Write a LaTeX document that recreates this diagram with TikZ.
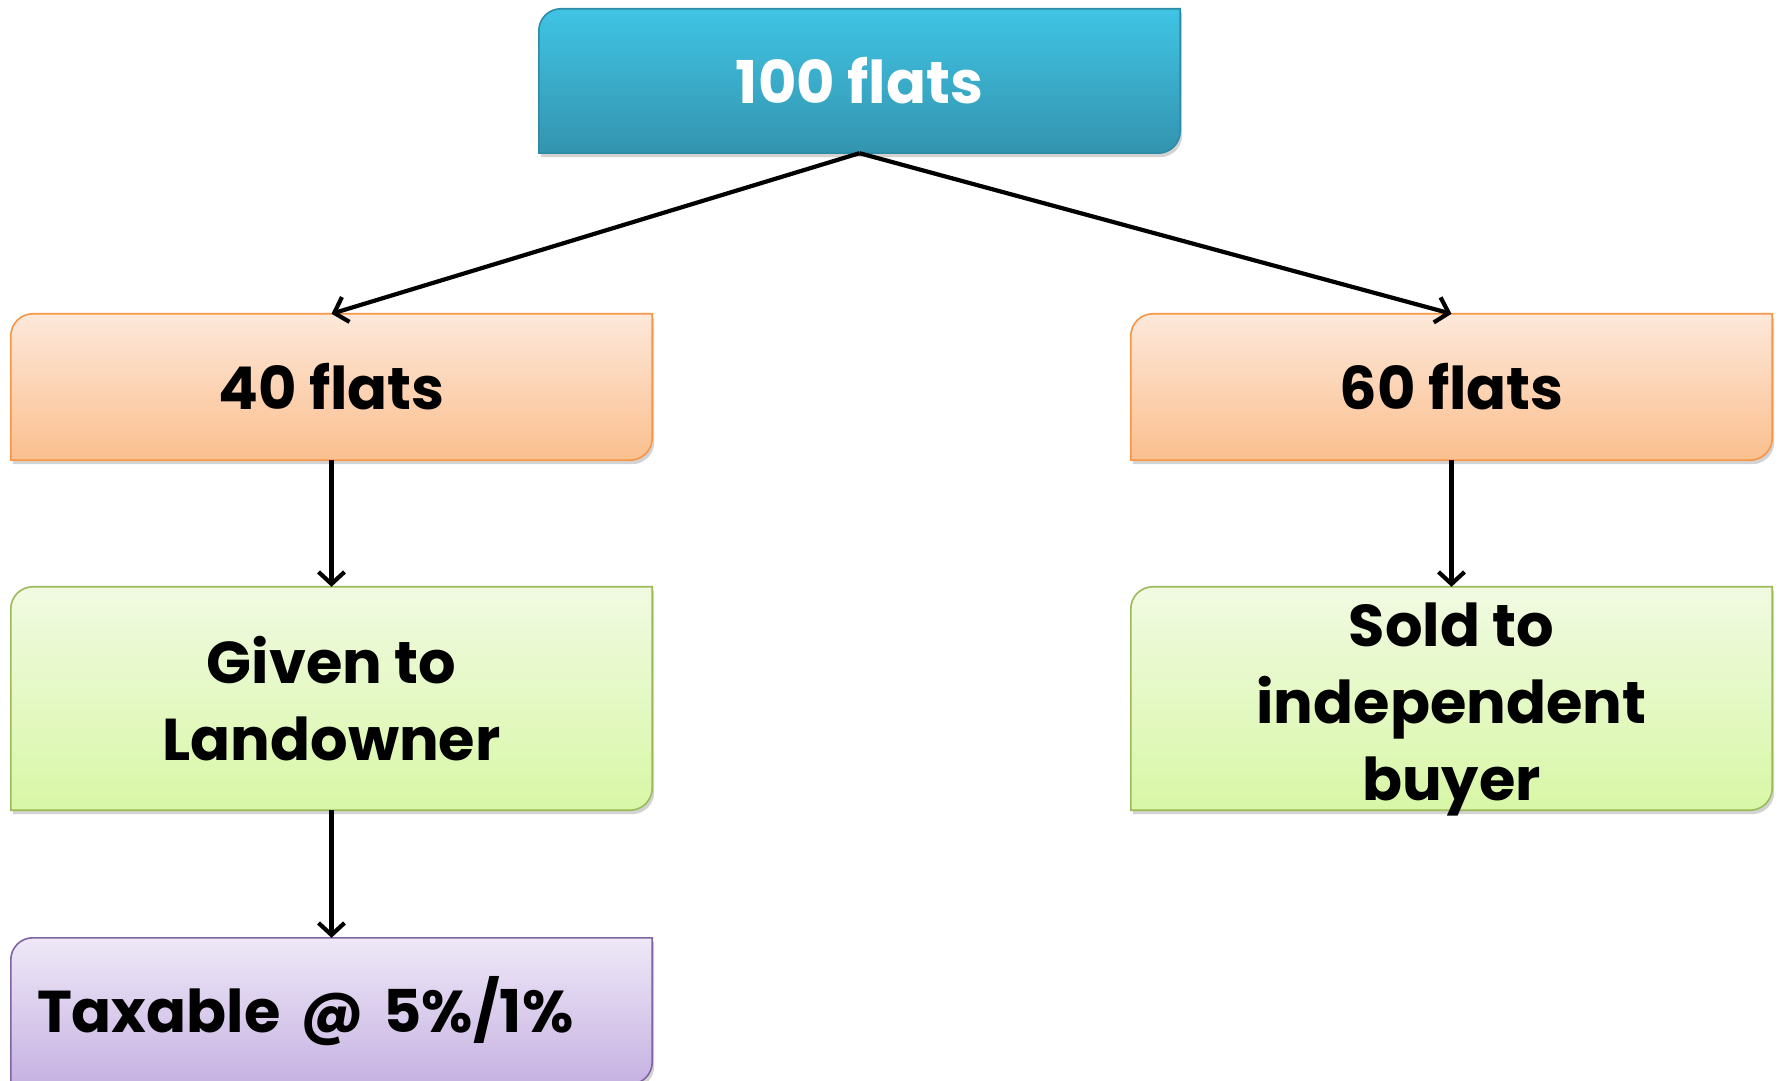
\documentclass[tikz,border=0pt]{standalone}
\usepackage{fontspec}
\setmainfont{Poppins}[BoldFont={* Bold}]
\usetikzlibrary{arrows.meta,shadows,calc}

\definecolor{blueTop}{HTML}{40C4E4}
\definecolor{blueBot}{HTML}{3394AF}
\definecolor{blueLine}{HTML}{2E8BA6}
\definecolor{orangeTop}{HTML}{FDE8DA}
\definecolor{orangeBot}{HTML}{FBBF8E}
\definecolor{orangeLine}{HTML}{F79646}
\definecolor{greenTop}{HTML}{F1FAE2}
\definecolor{greenBot}{HTML}{D8F7A6}
\definecolor{greenLine}{HTML}{9BBB59}
\definecolor{purpleTop}{HTML}{EEE8F7}
\definecolor{purpleBot}{HTML}{C6B2E2}
\definecolor{purpleLine}{HTML}{8064A2}

% draws a box with rounded top-left and bottom-right corners around a node
\newcommand\flowshape[4]{%
  \path[top color=#2, bottom color=#3, draw=#4, line width=1.6pt,
        drop shadow={shadow xshift=2pt, shadow yshift=-4pt, opacity=0.35}]
    ($(#1.north west)+(0,-22pt)$) arc[start angle=180, end angle=90, radius=22pt]
    -- (#1.north east) -- ($(#1.south east)+(0,22pt)$)
    arc[start angle=0, end angle=-90, radius=22pt]
    -- (#1.south west) -- cycle;}

\tikzset{
  box/.style={minimum width=641pt, inner sep=0pt, align=center,
              font=\fontsize{59}{77}\selectfont\bfseries},
  link/.style={line width=4.2pt,
               -{Straight Barb[length=12pt, width=26pt, line width=4.2pt]}},
}

\begin{document}
\begin{tikzpicture}[x=1pt, y=1pt]
  \useasboundingbox (0,0) rectangle (1779,1080);
  \clip (0,0) rectangle (1779,1080);

  % node frames (text is set on top of the shaded shapes below)
  \node[box, minimum height=144pt] (top) at (859.5,999) {};
  \node[box, minimum height=146pt] (n40) at (331.5,693) {};
  \node[box, minimum height=146pt] (n60) at (1451.5,693) {};
  \node[box, minimum height=223pt] (given) at (331.5,381.5) {};
  \node[box, minimum height=223pt] (sold) at (1451.5,381.5) {};
  \node[box, minimum height=146pt] (tax) at (331.5,69) {};

  \flowshape{top}{blueTop}{blueBot}{blueLine}
  \flowshape{n40}{orangeTop}{orangeBot}{orangeLine}
  \flowshape{n60}{orangeTop}{orangeBot}{orangeLine}
  \flowshape{given}{greenTop}{greenBot}{greenLine}
  \flowshape{sold}{greenTop}{greenBot}{greenLine}
  \flowshape{tax}{purpleTop}{purpleBot}{purpleLine}

  % labels
  \node[box, text=white] (topText) at (top) {100 flats};
  \node[box] (n40Text) at (n40) {40 flats};
  \node[box] (n60Text) at (n60) {60 flats};
  \node[box] (givenText) at (given) {Given to\\Landowner};
  \node[box] (soldText) at ([yshift=-11pt]sold.center) {Sold to\\independent\\buyer};
  \node[box, align=left, text width=589pt, inner xsep=26pt]
       (taxText) at (tax) {Taxable @ 5\%/1\%};

  \draw[link] (top.south) -- (n40.north);
  \draw[link] (top.south) -- (n60.north);
  \draw[link] (n40.south) -- (given.north);
  \draw[link] (n60.south) -- (sold.north);
  \draw[link] (given.south) -- (tax.north);
\end{tikzpicture}
\end{document}
